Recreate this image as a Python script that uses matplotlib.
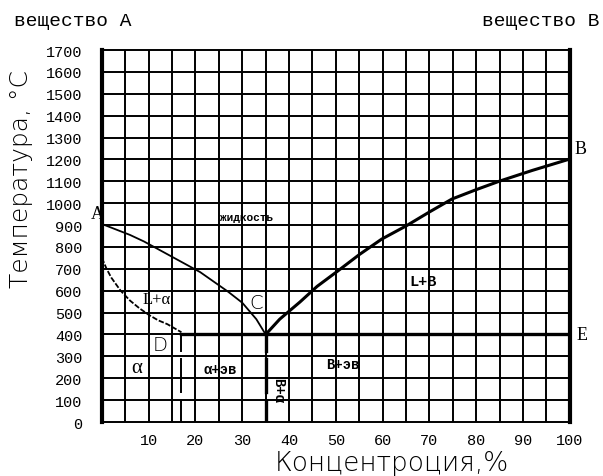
import matplotlib.pyplot as plt
import numpy as np

# линии диаграммы состояния (концентрация В, %; температура, °C)
liq_left_x = [0, 3, 6, 9, 12, 15, 18, 21, 24, 27, 30, 33, 35]
liq_left_t = [905, 880, 855, 825, 790, 755, 720, 685, 640, 595, 545, 470, 400]

sol_left_x = [0, 1, 2, 4, 6, 8, 10, 12, 14, 17]
sol_left_t = [750, 700, 660, 600, 555, 520, 490, 465, 447, 410]

liq_right_x = [35, 38, 42.3, 46, 50.4, 55, 59.8, 65, 70, 74.8, 80, 85, 92, 100]
liq_right_t = [400, 470, 548, 620, 690, 765, 836, 896, 960, 1019, 1062, 1101, 1150, 1202]

eut_x = [17, 100]
eut_t = [400, 400]

x_ticks = [10, 20, 30, 40, 50, 60, 70, 80, 90, 100]
y_ticks = list(range(0, 1800, 100))

serif = 'Liberation Serif'
mono = 'Liberation Mono'

fig = plt.figure(figsize=(6.03, 4.77), dpi=100)
ax = fig.add_axes([0.169, 0.1132, 0.776, 0.7798])

ax.set_xlim(0, 100)
ax.set_ylim(0, 1700)

# сетка
for gx in np.arange(5, 100, 5):
    ax.axvline(gx, color='black', lw=1.4, zorder=1)
for gy in np.arange(100, 1700, 100):
    ax.axhline(gy, color='black', lw=1.4, zorder=1)

ax.plot(liq_left_x, liq_left_t, color='black', lw=1.3, zorder=3)
ax.plot(sol_left_x, sol_left_t, color='black', lw=1.3, ls=(0, (3, 1)), zorder=3)
ax.plot(liq_right_x, liq_right_t, color='black', lw=2.2, zorder=3)
ax.plot(eut_x, eut_t, color='black', lw=2.4, zorder=3)

# вертикальные штриховые линии
for vx, w in [(16.8, 1.4), (35, 2.4)]:
    ax.plot([vx, vx], [400, 325], color='black', lw=w, zorder=3)
    ax.plot([vx, vx], [290, 135], color='black', lw=w, zorder=3)
    ax.plot([vx, vx], [95, 0], color='black', lw=w, zorder=3)

for side in ['left', 'right']:
    ax.spines[side].set_linewidth(3.0)
for side in ['top', 'bottom']:
    ax.spines[side].set_linewidth(1.4)

ax.set_xticks(x_ticks)
ax.set_yticks(y_ticks)
ax.set_xticklabels([str(v) for v in x_ticks], family=mono, fontsize=11)
ax.set_yticklabels([str(v) for v in y_ticks], family=mono, fontsize=11)
ax.tick_params(axis='y', length=0, pad=14)
ax.tick_params(axis='x', length=0, pad=8)

# подписи областей
ax.text(31, 937, 'жидкость', fontsize=8, fontweight='bold', family=mono, ha='center', va='center')
ax.text(11.8, 562, 'L+α', fontsize=12, family=serif, ha='center', va='center')
ax.text(33, 548, 'C', fontsize=14, family='DejaVu Sans', fontweight='light', ha='center', va='center')
ax.text(12.4, 356, 'D', fontsize=14, family='DejaVu Sans', fontweight='light', ha='center', va='center')
ax.text(7.4, 250, 'α', fontsize=15, family=serif, ha='center', va='center')
ax.text(25.2, 242, 'α+эв', fontsize=10, fontweight='bold', family=mono, ha='center', va='center')
ax.text(37.6, 150, 'В+α', fontsize=10, fontweight='bold', family=mono, ha='center', va='center', rotation=270)
ax.text(51.5, 265, 'В+эв', fontsize=10, fontweight='bold', family=mono, ha='center', va='center')
ax.text(68.6, 644, 'L+В', fontsize=11, fontweight='bold', family=mono, ha='center', va='center')

ax.text(-1, 915, 'A', fontsize=13, family=serif, ha='center', va='bottom', clip_on=False)
ax.text(101, 1210, 'B', fontsize=13, family=serif, ha='left', va='bottom', clip_on=False)
ax.text(101.5, 400, 'E', fontsize=13, family=serif, ha='left', va='center', clip_on=False)

fig.text(0.023, 0.954, 'вещество А', fontsize=14, family=mono, ha='left', va='center')
fig.text(0.995, 0.954, 'вещество В', fontsize=14, family=mono, ha='right', va='center')

fig.text(0.650, 0.029, 'Концентроция,%', fontsize=19, family='DejaVu Sans', fontweight='light',
         ha='center', va='center')
fig.text(0.034, 0.625, 'Температура, °С', fontsize=18, family='DejaVu Sans', fontweight='light',
         ha='center', va='center', rotation=90)

plt.savefig('out.png', dpi=100)
